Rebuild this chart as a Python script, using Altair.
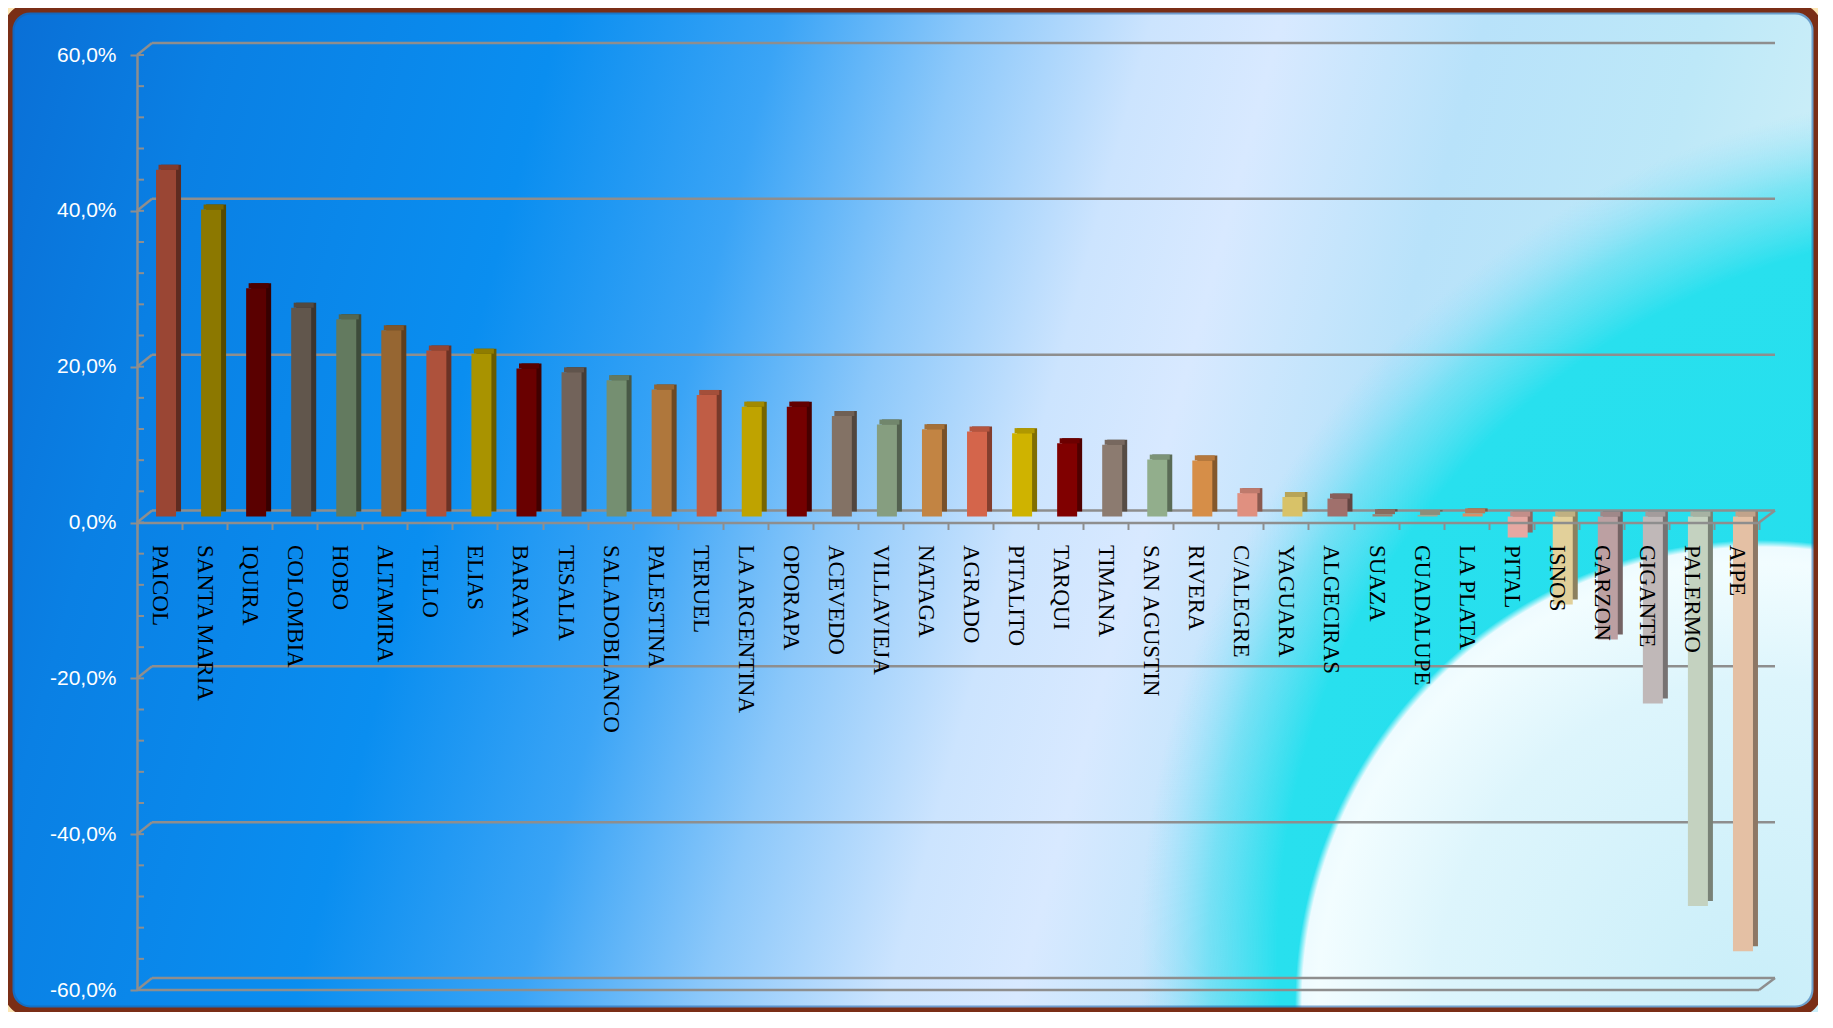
import altair as alt
import pandas as pd

names = ["PAICOL", "SANTA MARIA", "IQUIRA", "COLOMBIA", "HOBO", "ALTAMIRA", "TELLO",
         "ELIAS", "BARAYA", "TESALIA", "SALADOBLANCO", "PALESTINA", "TERUEL",
         "LA ARGENTINA", "OPORAPA", "ACEVEDO", "VILLAVIEJA", "NATAGA", "AGRADO",
         "PITALITO", "TARQUI", "TIMANA", "SAN AGUSTIN", "RIVERA", "C/ALEGRE",
         "YAGUARA", "ALGECIRAS", "SUAZA", "GUADALUPE", "LA PLATA", "PITAL", "ISNOS",
         "GARZON", "GIGANTE", "PALERMO", "AIPE"]
values = [44.5, 39.4, 29.3, 26.8, 25.3, 23.9, 21.3, 20.9, 19.0, 18.5, 17.5, 16.3, 15.6,
          14.1, 14.1, 12.9, 11.8, 11.2, 10.9, 10.7, 9.4, 9.2, 7.3, 7.2, 3.0, 2.5, 2.3,
          0.3, 0.2, 0.4, -2.7, -11.3, -15.8, -24.0, -50.0, -55.8]
colors = ["#9A4634", "#8C7800", "#5A0000", "#61564C", "#637A5F", "#966632", "#AE523C",
          "#A99300", "#690000", "#72635A", "#758F71", "#AF773C", "#C05D45", "#BFA300",
          "#740000", "#837265", "#869E80", "#C28443", "#D4654B", "#CFB300", "#800000",
          "#8C7B70", "#92AE8C", "#D68E48", "#E09080", "#D8C268", "#A0706C", "#A08070",
          "#A8A890", "#D89068", "#E6A8A2", "#E2D09A", "#BCA0A2", "#C0B8B8", "#C4D2C0",
          "#E4C0A4"]
major_ticks = [-60, -40, -20, 0, 20, 40, 60]
minor_ticks = list(range(-60, 61, 4))


def shade(hx, f):
    r, g, b = int(hx[1:3], 16), int(hx[3:5], 16), int(hx[5:7], 16)
    return "#%02x%02x%02x" % (int(r * f), int(g * f), int(b * f))


df = pd.DataFrame({
    "name": names,
    "value": values,
    "front": colors,
    "side": [shade(c, 0.62) for c in colors],
    "topc": [shade(c, 0.85) for c in colors],
    "top": [max(v, 0) for v in values],
})
grid_df = pd.DataFrame({"v": major_ticks})
minor_df = pd.DataFrame({"v": minor_ticks})
ends_df = pd.DataFrame({"v": [0, -60]})
one = pd.DataFrame({"k": [0]})

W, H = 1622, 935
PL, PT = 129, 47
TW, TH = 1810, 1004
PR = TW - PL - W
PB = TH - PT - H
GRID = "#8E8E8E"

yscale = alt.Scale(domain=[-60, 60], nice=False, zero=False)
yaxis = alt.Axis(
    values=major_ticks, title=None, grid=False, zindex=1,
    labelExpr="(datum.value < 0 ? '-' : '') + replace(format(abs(datum.value), '.1f'), '.', ',') + '%'",
    labelFont="Liberation Sans", labelFontSize=21, labelColor="white", labelPadding=14,
    tickSize=7, tickColor=GRID, tickWidth=2, domainColor=GRID, domainWidth=2.5,
)
xaxis = alt.Axis(
    orient="bottom", offset=-(H / 2), title=None, grid=False, zindex=1,
    labelAngle=90, labelAlign="left", labelBaseline="middle",
    labelFont="Liberation Serif", labelFontSize=23, labelColor="black",
    labelPadding=15, labelLimit=400, labelOverlap=False,
    tickBand="extent", tickSize=7, tickColor=GRID, tickWidth=2,
    domainColor=GRID, domainWidth=2.5,
)
xenc = alt.X("name:N", sort=names, scale=alt.Scale(paddingInner=0, paddingOuter=0), axis=xaxis)


def yenc(field):
    return alt.Y(field, scale=yscale, axis=yaxis)


base_grad = {
    "gradient": "linear", "x1": 0, "y1": 0, "x2": 1, "y2": 0.15,
    "stops": [
        {"offset": 0.0, "color": "#0A6FD6"},
        {"offset": 0.12, "color": "#0A80E4"},
        {"offset": 0.30, "color": "#0A8EF0"},
        {"offset": 0.42, "color": "#3AA4F6"},
        {"offset": 0.52, "color": "#8CC8FA"},
        {"offset": 0.62, "color": "#CCE4FE"},
        {"offset": 0.69, "color": "#D8E9FF"},
        {"offset": 0.80, "color": "#B8E2FA"},
        {"offset": 0.92, "color": "#BDE8F8"},
        {"offset": 1.0, "color": "#CBEEF8"},
    ],
}
cyan_grad = {
    "gradient": "radial", "x1": 0.5, "y1": 0.5, "r1": 0, "x2": 0.5, "y2": 0.5, "r2": 0.5,
    "stops": [
        {"offset": 0.0, "color": "#22DDEC"},
        {"offset": 0.84, "color": "#28E0EE"},
        {"offset": 0.92, "color": "rgba(60,222,240,0.55)"},
        {"offset": 1.0, "color": "rgba(120,220,250,0)"},
    ],
}
white_grad = {
    "gradient": "radial", "x1": 0.5, "y1": 0.5, "r1": 0, "x2": 0.5, "y2": 0.5, "r2": 0.5,
    "stops": [
        {"offset": 0.0, "color": "#C9EEF9"},
        {"offset": 0.70, "color": "#DDF5FC"},
        {"offset": 0.95, "color": "#F2FDFF"},
        {"offset": 0.985, "color": "#EEFBFF"},
        {"offset": 1.0, "color": "rgba(230,250,255,0)"},
    ],
}

bg = alt.Chart(one).mark_rect(cornerRadius=20, fill=base_grad).encode(
    x=alt.value(-PL), x2=alt.value(W + PR), y=alt.value(-PT), y2=alt.value(H + PB))
cyan = alt.Chart(one).mark_circle(size=1720 ** 2, fill=cyan_grad, opacity=1).encode(
    x=alt.value(1863), y=alt.value(895))
white = alt.Chart(one).mark_circle(size=930 ** 2, fill=white_grad, opacity=1).encode(
    x=alt.value(1623), y=alt.value(950))
bevel = alt.Chart(one).mark_rect(cornerRadius=18, fillOpacity=0, stroke="#1F5FA6",
                                 strokeOpacity=0.55, strokeWidth=3).encode(
    x=alt.value(-PL + 5), x2=alt.value(W + PR - 5), y=alt.value(-PT + 5), y2=alt.value(H + PB - 5))
frame = alt.Chart(one).mark_rect(cornerRadius=22, fillOpacity=0, stroke="#7A2E16",
                                 strokeWidth=9).encode(
    x=alt.value(-PL), x2=alt.value(W + PR), y=alt.value(-PT), y2=alt.value(H + PB))

grid = alt.Chart(grid_df).mark_rule(color=GRID, strokeWidth=2.5, yOffset=-12).encode(
    y=yenc("v:Q"), x=alt.value(15), x2=alt.value(W + 16))
diag = alt.Chart(grid_df).mark_rule(color=GRID, strokeWidth=2.5, y2Offset=-12).encode(
    y=yenc("v:Q"), y2=alt.Y2("v:Q"), x=alt.value(0), x2=alt.value(15))
diag_r = alt.Chart(ends_df).mark_rule(color=GRID, strokeWidth=2.5, y2Offset=-12).encode(
    y=yenc("v:Q"), y2=alt.Y2("v:Q"), x=alt.value(W), x2=alt.value(W + 16))
floor = alt.Chart(pd.DataFrame({"v": [-60]})).mark_rule(color=GRID, strokeWidth=2.5).encode(
    y=yenc("v:Q"), x=alt.value(0), x2=alt.value(W))
minor = alt.Chart(minor_df).mark_rule(color=GRID, strokeWidth=2).encode(
    y=yenc("v:Q"), x=alt.value(0), x2=alt.value(7))

side = alt.Chart(df).mark_bar(width=20, xOffset=11.5, yOffset=-11, y2Offset=-11).encode(
    x=xenc, y=yenc("value:Q"), y2=alt.datum(0), color=alt.Color("side:N", scale=None))
topf = alt.Chart(df).mark_bar(width=20, xOffset=9, yOffset=-11, y2Offset=-6).encode(
    x=xenc, y=yenc("top:Q"), y2=alt.Y2("top:Q"), color=alt.Color("topc:N", scale=None))
front = alt.Chart(df).mark_bar(width=20, xOffset=6.5, yOffset=-6, y2Offset=-6).encode(
    x=xenc, y=yenc("value:Q"), y2=alt.datum(0), color=alt.Color("front:N", scale=None))

chart = alt.layer(bg, cyan, white, bevel, frame, grid, diag, diag_r, floor, minor,
                  side, topf, front).properties(
    width=W, height=H,
    padding={"left": PL, "top": PT, "right": PR, "bottom": PB},
    autosize=alt.AutoSizeParams(type="none"),
    background="#FCE6B4",
).configure_view(strokeWidth=0)

chart.save("out.html", embed_options={"renderer": "svg", "actions": False})
